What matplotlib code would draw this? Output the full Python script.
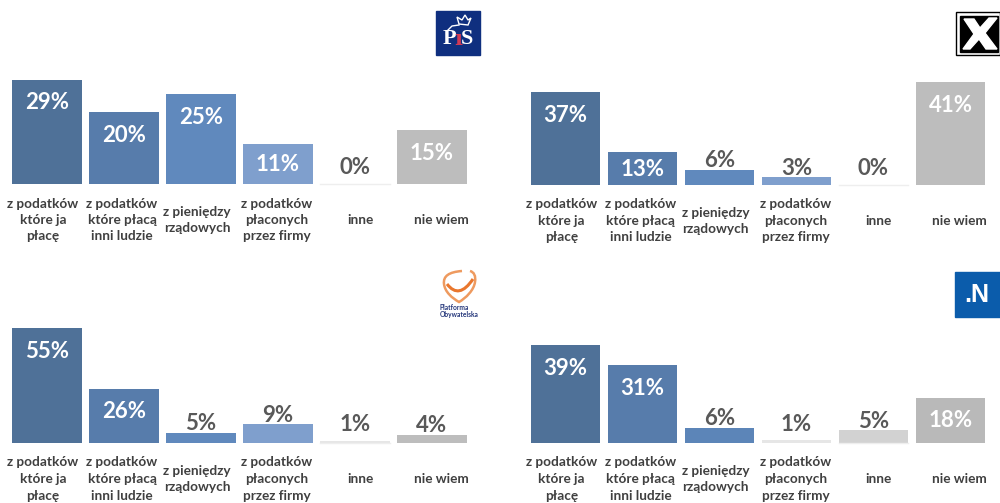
import matplotlib
matplotlib.use('Agg')
import matplotlib.pyplot as plt
from matplotlib.patches import Rectangle, Polygon, PathPatch
from matplotlib.path import Path

plt.rcParams['font.family'] = ['Lato', 'DejaVu Sans']

W, H = 1000, 503

categories = ['z podatków\nktóre ja\npłacę', 'z podatków\nktóre płacą\ninni ludzie',
              'z pieniędzy\nrządowych', 'z podatków\npłaconych\nprzez firmy',
              'inne', 'nie wiem']

pis_values = [29, 20, 25, 11, 0, 15]
kukiz_values = [37, 13, 6, 3, 0, 41]
po_values = [55, 26, 5, 9, 1, 4]
n_values = [39, 31, 6, 1, 5, 18]

bar_colors = ['#4f7198', '#577cab', '#6089bd', '#7f9fcd', '#e6e6e6', '#bdbdbd']
n_colors = ['#4f7198', '#577cab', '#5c85b8', '#e6e6e6', '#d2d2d2', '#b9b9b9']

# labels are not quite centred under the bars in the original (px)
label_shift = [-4, -2, -4, -1, 5, 9]

# (values, colours, left px, baseline px, px per 1%)
panels = [
    (pis_values, bar_colors, 8.5, 184, 3.6),
    (kukiz_values, bar_colors, 527, 185, 2.51),
    (po_values, bar_colors, 8.5, 443, 2.09),
    (n_values, n_colors, 527, 443, 2.51),
]

STEP = 77.0   # px between bars
PT = 0.72     # points per px at dpi 100

fig = plt.figure(figsize=(W / 100, H / 100), dpi=100, facecolor='white')


def px_axes(x0, y0, w, h):
    # axes placed with pixel coords, y counted from the top
    return fig.add_axes([x0 / W, 1 - (y0 + h) / H, w / W, h / H])


for values, colors, left, base, scale in panels:
    height = max(values) * scale + 2
    ax = px_axes(left, base - height, STEP * 6, height)
    ax.set_xlim(-0.5, 5.5)
    ax.set_ylim(0, height / scale)
    ax.axis('off')
    ax.bar(range(6), values, width=0.905, color=colors)
    ax.plot([3.55, 4.45], [0, 0], color='#eeeeee', lw=1, clip_on=False)

    for i, v in enumerate(values):
        bar_px = v * scale
        if bar_px > 30:
            offset, col = -min(23, bar_px * 0.52), 'white'
        else:
            offset, col = (16 if v <= 1 else 9), '#595959'
        ax.annotate(f'{v}%', (i, v), xytext=(0, offset * PT),
                    textcoords='offset points', ha='center', va='center',
                    fontsize=16, fontweight='bold', color=col)
        ax.annotate(categories[i], (i, 0), xytext=(label_shift[i] * PT, -36 * PT),
                    textcoords='offset points', ha='center', va='center',
                    fontsize=9.8, fontweight='bold', color='#404040',
                    linespacing=1.45, annotation_clip=False)

# logos, drawn in pixel coords on a full-figure overlay
logo = fig.add_axes([0, 0, 1, 1], facecolor='none')
logo.set_xlim(0, W)
logo.set_ylim(H, 0)
logo.axis('off')

# PiS
logo.add_patch(Rectangle((436, 11), 44, 44, color='#0f2f7f'))
logo.text(449, 39, 'P', family='Liberation Serif', fontweight='bold', fontsize=16,
          color='white', ha='center', va='center')
logo.text(458, 39, 'ı', family='DejaVu Serif', fontweight='bold', fontsize=15,
          color='#d23a55', ha='center', va='center')
logo.text(467, 39, 'S', family='Liberation Serif', fontweight='bold', fontsize=16,
          color='white', ha='center', va='center')
logo.add_patch(Polygon([(459, 24), (457, 17), (462, 20), (465, 15), (468, 20), (471, 18), (468, 25)],
                       fc='none', ec='white', lw=1))
logo.plot([447, 452, 459], [31, 26, 25], color='white', lw=1)

# Kukiz
logo.add_patch(Rectangle((956, 12), 44, 43, fc='white', ec='black', lw=1))
logo.add_patch(Rectangle((960, 16), 38, 36, color='black'))
logo.add_patch(Polygon([(964, 19), (974, 19), (980, 28), (989, 18), (997, 18), (985, 33),
                        (997, 49), (986, 49), (979, 39), (970, 49), (963, 49), (974, 34)],
                       color='white'))

# PO
heart = Path([(462, 271), (449, 272), (443, 276), (444, 284),
              (445, 292), (452, 298), (459, 302),
              (466, 298), (474, 290), (475, 282),
              (476, 276), (474, 272), (470, 271)],
             [Path.MOVETO] + [Path.CURVE4] * 12)
logo.add_patch(PathPatch(heart, fc='none', ec='#ee9a5f', lw=1.8))
swoosh = Path([(447, 284), (459, 300), (473, 279)], [Path.MOVETO, Path.CURVE3, Path.CURVE3])
logo.add_patch(PathPatch(swoosh, fc='none', ec='#e9772e', lw=2.2))
logo.text(440, 311, 'Platforma\nObywatelska', fontsize=4.8, fontweight='bold', color='#24367a',
          ha='left', va='center', linespacing=0.85)

# .N
logo.add_patch(Rectangle((955, 272), 45, 45, color='#0b5cab'))
logo.text(977, 295, '.N', family='Liberation Sans', fontweight='bold', fontsize=18,
          color='white', ha='center', va='center')

fig.savefig('out.png', dpi=100, facecolor='white')
